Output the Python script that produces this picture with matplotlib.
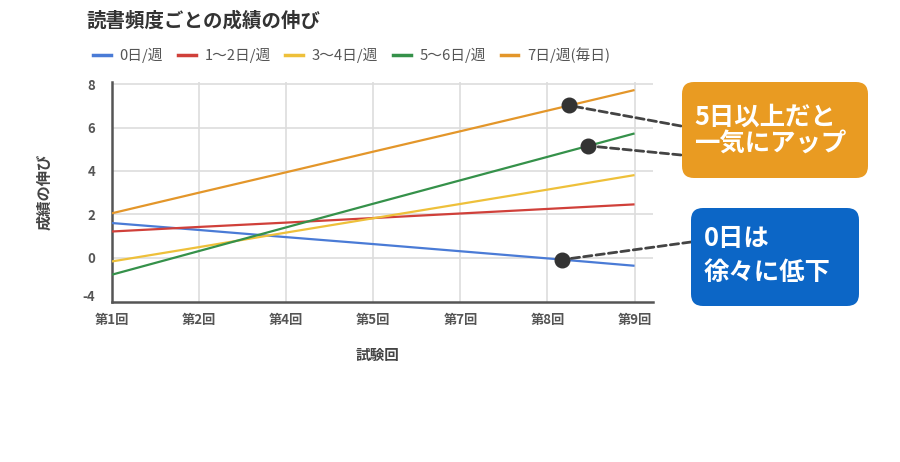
import numpy as np
import matplotlib
matplotlib.use('Agg')
import matplotlib.pyplot as plt
from matplotlib.patches import FancyBboxPatch

plt.rcParams['font.family'] = ['Noto Sans CJK JP', 'DejaVu Sans']

# --- data ---
rounds = ['第1回', '第2回', '第4回', '第5回', '第7回', '第8回', '第9回']
series_names = ['0日/週', '1〜2日/週', '3〜4日/週', '5〜6日/週', '7日/週(毎日)']
series_colors = ['#4a7bd6', '#d0403a', '#eec03a', '#35914a', '#e3962a']
growth = [
    [1.60, 1.28, 0.95, 0.63, 0.30, -0.03, -0.37],   # 0日/週
    [1.21, 1.42, 1.62, 1.83, 2.04, 2.25, 2.46],     # 1〜2日/週
    [-0.17, 0.49, 1.16, 1.82, 2.48, 3.14, 3.81],    # 3〜4日/週
    [-0.78, 0.31, 1.40, 2.49, 3.57, 4.65, 5.73],    # 5〜6日/週
    [2.05, 3.00, 3.94, 4.89, 5.83, 6.78, 7.73],     # 7日/週(毎日)
]
ytick_vals = [-1.72, 0, 2, 4, 6, 8]
ytick_labels = ['-4', '0', '2', '4', '6', '8']
grid_vals = [0, 2, 4, 6, 8]

# callouts: series index, x position (in category units) of the dot
callout_up = [(4, 5.25), (3, 5.47)]
callout_down = [(0, 5.17)]
text_up = ['5日以上だと', '一気にアップ']
text_down = ['0日は', '徐々に低下']

fig = plt.figure(figsize=(9, 4.62), dpi=100)
ax = fig.add_axes([0.1244, 0.3463, 0.601, 0.4762])

x = np.arange(len(rounds))
for vals, col in zip(growth, series_colors):
    ax.plot(x, vals, color=col, lw=1.6, solid_capstyle='butt', zorder=3)

ax.set_xlim(0, 6.21)
ax.set_ylim(-2.04, 8.1)
for g in grid_vals:
    ax.axhline(g, color='#dddddd', lw=1.2, zorder=1)
for xi in x[1:]:
    ax.axvline(xi, color='#dddddd', lw=1.2, zorder=1)

ax.set_xticks(x)
ax.set_xticklabels(rounds)
ax.set_yticks(ytick_vals)
ax.set_yticklabels(ytick_labels)
ax.tick_params(axis='x', length=0, labelsize=9.5, labelcolor='#555555', pad=8)
ax.tick_params(axis='y', length=0, labelsize=9.5, labelcolor='#555555', pad=12)
for lab in ax.get_xticklabels() + ax.get_yticklabels():
    lab.set_fontweight('bold')

for s in ['top', 'right']:
    ax.spines[s].set_visible(False)
for s in ['left', 'bottom']:
    ax.spines[s].set_color('#555555')
    ax.spines[s].set_linewidth(1.8)

ax.set_xlabel('試験回', fontsize=10.5, fontweight='bold', color='#444444')
ax.set_ylabel('成績の伸び', fontsize=11, fontweight='bold', color='#444444')
ax.xaxis.set_label_coords(0.49, -0.205)
ax.yaxis.set_label_coords(-0.11, 0.5)

fig.text(86 / 900, 1 - 21 / 462, '読書頻度ごとの成績の伸び', fontsize=14, fontweight='bold',
         color='#333333', va='center', ha='left')

handles = [plt.Line2D([], [], color=c, lw=2.5) for c in series_colors]
fig.legend(handles, series_names, loc='center left', bbox_to_anchor=(80 / 900, 1 - 55 / 462),
           ncol=5, frameon=False, fontsize=10.6, handlelength=1.2, handletextpad=0.6,
           columnspacing=1.0, labelcolor='#555555')

# rounded callout boxes (inches)
box_up = FancyBboxPatch((6.88, 2.90), 1.74, 0.84, boxstyle='round,pad=0.06,rounding_size=0.12',
                        transform=fig.dpi_scale_trans, fc='#e99b22', ec='none')
box_down = FancyBboxPatch((6.97, 1.62), 1.56, 0.86, boxstyle='round,pad=0.06,rounding_size=0.12',
                          transform=fig.dpi_scale_trans, fc='#0c66c6', ec='none')
fig.patches.extend([box_up, box_down])

for line, ypix in zip(text_up, [117, 143]):
    fig.text(694 / 900, 1 - ypix / 462, line, fontsize=18.3, fontweight='bold', color='white',
             va='center', ha='left')
for line, ypix in zip(text_down, [238, 272]):
    fig.text(704 / 900, 1 - ypix / 462, line, fontsize=18.3, fontweight='bold', color='white',
             va='center', ha='left')

def callout(idx, xd, end_px):
    yd = np.interp(xd, x, growth[idx])
    ax.plot([xd], [yd], 'o', color='#333333', ms=10.5, zorder=5, clip_on=False)
    ax.annotate('', xy=(xd, yd), xycoords='data',
                xytext=(end_px[0] / 900, 1 - end_px[1] / 462), textcoords='figure fraction',
                arrowprops=dict(arrowstyle='-', linestyle=(0, (3, 1.5)), color='#444444',
                                lw=2, shrinkA=0, shrinkB=0),
                annotation_clip=False)

callout(callout_up[0][0], callout_up[0][1], (681, 126))
callout(callout_up[1][0], callout_up[1][1], (681, 155))
callout(callout_down[0][0], callout_down[0][1], (691, 242))

fig.savefig('out.png', dpi=100)
